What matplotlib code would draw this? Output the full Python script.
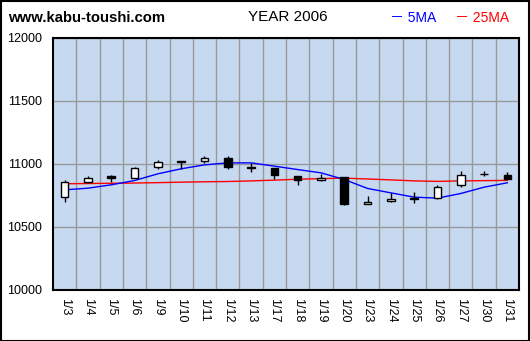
import matplotlib
matplotlib.use('Agg')
import matplotlib.pyplot as plt
from matplotlib.patches import Rectangle

# daily data, January 2006
dates = ['1/3', '1/4', '1/5', '1/6', '1/9', '1/10', '1/11', '1/12', '1/13', '1/17',
         '1/18', '1/19', '1/20', '1/23', '1/24', '1/25', '1/26', '1/27', '1/30', '1/31']
opens = [10736, 10852, 10899, 10883, 10974, 11021, 11018, 11045, 10976, 10968,
         10897, 10868, 10889, 10680, 10704, 10728, 10730, 10831, 10920, 10905]
highs = [10871, 10897, 10910, 10976, 11029, 11021, 11056, 11056, 11002, 10968,
         10897, 10913, 10889, 10744, 10762, 10770, 10831, 10937, 10937, 10931]
lows = [10693, 10847, 10852, 10883, 10958, 10958, 11002, 10960, 10929, 10879,
        10828, 10860, 10667, 10680, 10693, 10685, 10720, 10815, 10899, 10875]
closes = [10855, 10887, 10883, 10966, 11013, 11008, 11045, 10971, 10963, 10907,
          10868, 10881, 10677, 10698, 10722, 10722, 10815, 10910, 10918, 10875]
ma5 = [10791, 10804, 10831, 10865, 10918, 10958, 10989, 11005, 11005, 10979,
       10952, 10926, 10873, 10802, 10767, 10733, 10725, 10762, 10812, 10847]
ma25 = [10839, 10841, 10843, 10845, 10848, 10852, 10855, 10857, 10862, 10868,
        10875, 10880, 10884, 10877, 10870, 10862, 10858, 10862, 10864, 10866]

plt.rcParams['font.family'] = ['Liberation Sans', 'Noto Sans CJK JP', 'DejaVu Sans']

fig = plt.figure(figsize=(5.30, 3.41), dpi=100)
fig.patch.set_facecolor('white')
ax = fig.add_axes([53/530, 1-289.5/341, 466/530, 252/341])
ax.set_facecolor('#c6d9f0')

x = list(range(len(dates)))
w = 0.33
for i in x:
    o, h, l, c = opens[i], highs[i], lows[i], closes[i]
    ax.vlines(i, l, h, color='black', lw=1, zorder=3)
    bot = min(o, c)
    ht = max(abs(c - o), 2)
    fc = 'white' if c >= o else 'black'
    ax.add_patch(Rectangle((i - w/2, bot), w, ht, facecolor=fc, edgecolor='black', lw=1, zorder=4))

ax.plot(x, ma25, color='red', lw=1, zorder=2)
ax.plot(x, ma5, color='blue', lw=1, zorder=2)

ax.set_xlim(-0.5, len(dates) - 0.5)
ax.set_ylim(10000, 12000)
ax.set_yticks([10000, 10500, 11000, 11500, 12000])
ax.set_yticklabels(['10000', '10500', '11000', '11500', '12000'], fontsize=9)
ax.set_xticks(x)
ax.set_xticklabels(dates, rotation=270, fontsize=9)
ax.set_xticks([i + 0.5 for i in x[:-1]], minor=True)
ax.tick_params(axis='x', which='major', length=0, pad=6)
ax.tick_params(axis='x', which='minor', length=0)
ax.tick_params(axis='y', length=0, pad=8)
ax.grid(True, which='minor', axis='x', color='#999999', lw=1, zorder=1)
ax.grid(True, which='major', axis='y', color='#999999', lw=1, zorder=1)
ax.set_axisbelow(True)
for s in ax.spines.values():
    s.set_color('black')
    s.set_linewidth(1.5)

fig.text(8/530, 1-18/341, 'www.kabu-toushi.com', fontsize=10.7, fontweight='bold', va='center', ha='left')
fig.text(288/530, 1-17/341, 'YEAR 2006', fontsize=11, va='center', ha='center')
fig.text(390/530, 1-18/341, '－ 5MA', fontsize=10, color='blue', va='center', ha='left')
fig.text(455/530, 1-18/341, '－ 25MA', fontsize=10, color='red', va='center', ha='left')

fig.add_artist(Rectangle((0.5/530, 0.5/341), 528.5/530, 339.5/341, transform=fig.transFigure,
                         fill=False, edgecolor='black', lw=1.5))

fig.savefig('out.png', dpi=100)
